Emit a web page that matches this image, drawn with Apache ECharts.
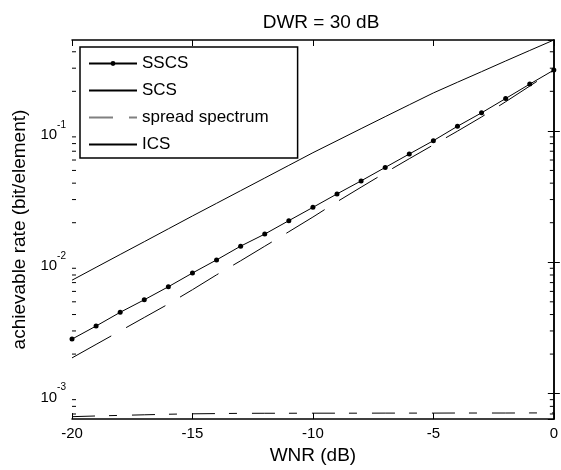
<!DOCTYPE html>
<html><head><meta charset="utf-8">
<script src="https://cdn.jsdelivr.net/npm/echarts@6/dist/echarts.min.js"></script>
<style>html,body{margin:0;padding:0;background:#fff}#c{width:561px;height:470px}</style>
</head><body><div id="c"></div>
<script>
// ---- data ----
const wnr = [-20,-19,-18,-17,-16,-15,-14,-13,-12,-11,-10,-9,-8,-7,-6,-5,-4,-3,-2,-1,0];
const sscs = [0.00260,0.00327,0.00416,0.00518,0.00651,0.00828,0.01042,0.01326,0.01638,0.02073,0.02617,0.03312,0.04163,0.05268,0.06667,0.08421,0.1084,0.1372,0.1763,0.2270,0.2903];
const spreadSpectrum = [0.00187,0.00237,0.00300,0.00380,0.00481,0.00618,0.00802,0.01026,0.01324,0.01707,0.02208,0.02887,0.03728,0.04801,0.06139,0.0782,0.0995,0.1276,0.1666,0.2193,0.2887];
const ics = [0.00730,0.00915,0.01146,0.01434,0.01797,0.02251,0.02809,0.03506,0.04375,0.05462,0.0682,0.0842,0.1040,0.1283,0.1580,0.1944,0.2345,0.2823,0.3404,0.4093,0.4917];
const scs = [6.68e-4,6.76e-4,6.83e-4,6.90e-4,6.97e-4,7.02e-4,7.05e-4,7.08e-4,7.09e-4,7.09e-4,7.10e-4,7.10e-4,7.10e-4,7.11e-4,7.11e-4,7.11e-4,7.12e-4,7.12e-4,7.12e-4,7.13e-4,7.13e-4];
const seriesNames = ['SSCS','SCS','spread spectrum','ICS'];
const xMin = -20, xMax = 0, xInterval = 5;
const yMin = 6.4e-4, yMax = 0.4917;
const yMinorTicks = [7e-4,8e-4,9e-4,2e-3,3e-3,4e-3,5e-3,6e-3,7e-3,8e-3,9e-3,2e-2,3e-2,4e-2,5e-2,6e-2,7e-2,8e-2,9e-2,2e-1,3e-1,4e-1];
const titleText = 'DWR = 30 dB';
const xName = 'WNR (dB)';
const yName = 'achievable rate (bit/element)';

// ---- chart ----
const F = '"Liberation Sans", Arial, Helvetica, sans-serif';
const pair = arr => wnr.map((x, i) => [x, arr[i]]);
const axisLine = {show: true, lineStyle: {color: '#000', width: 1.5}};
const noSymbol = {opacity: 0, color: 'transparent', borderWidth: 0};
const chart = echarts.init(document.getElementById('c'), null, {renderer: 'canvas'});

chart.setOption({
  animation: false,
  backgroundColor: '#fff',
  textStyle: {fontFamily: F, color: '#000'},
  title: {
    text: titleText, left: 316, textAlign: 'center', top: 8,
    textStyle: {fontSize: 19, fontWeight: 'normal', color: '#000', fontFamily: F}
  },
  grid: {left: 72, right: 1, top: 40, bottom: 44, containLabel: false},
  legend: {
    orient: 'vertical', left: 80, top: 47,
    itemWidth: 48, itemHeight: 6, itemGap: 10,
    padding: [8, 29, 5, 8],
    backgroundColor: '#fff', borderColor: '#000', borderWidth: 1.5, borderRadius: 0,
    textStyle: {fontSize: 17, color: '#000', fontFamily: F},
    data: [
      {name: seriesNames[0]},
      {name: seriesNames[1], lineStyle: {type: 'solid'}, itemStyle: noSymbol},
      {name: seriesNames[2], lineStyle: {type: [24, 16], color: '#808080'}, itemStyle: noSymbol},
      {name: seriesNames[3], itemStyle: noSymbol}
    ]
  },
  xAxis: [
    {type: 'value', min: xMin, max: xMax, interval: xInterval, position: 'bottom',
     name: xName, nameLocation: 'middle', nameGap: 17,
     nameTextStyle: {fontSize: 19, color: '#000', fontFamily: F},
     axisLine: axisLine, splitLine: {show: false},
     axisTick: {show: true, inside: true, length: 6, lineStyle: {color: '#000'}},
     axisLabel: {fontSize: 15, color: '#000', margin: 7, fontFamily: F}},
    {type: 'value', min: xMin, max: xMax, interval: xInterval, position: 'top',
     axisLine: axisLine, splitLine: {show: false},
     axisTick: {show: true, inside: true, length: 6, lineStyle: {color: '#000'}},
     axisLabel: {show: false}}
  ],
  yAxis: [
    {type: 'log', logBase: 10, min: yMin, max: yMax, position: 'left',
     name: yName, nameLocation: 'middle', nameGap: 43,
     nameTextStyle: {fontSize: 19, color: '#000', fontFamily: F},
     axisLine: axisLine, splitLine: {show: false},
     axisTick: {show: true, inside: true, length: 6, lineStyle: {color: '#000'}},
     axisLabel: {
       margin: 6, showMinLabel: false, showMaxLabel: false,
       padding: [8, 0, 0, 0],
       formatter: v => '{b|10}{s|' + Math.round(Math.log10(v)) + '}',
       rich: {
         b: {fontSize: 15, lineHeight: 30, color: '#000', fontFamily: F},
         s: {fontSize: 10, lineHeight: 10, verticalAlign: 'top', color: '#000', fontFamily: F}
       }
     }},
    {type: 'log', logBase: 10, min: yMin, max: yMax, position: 'right',
     axisLine: axisLine, splitLine: {show: false},
     axisTick: {show: true, inside: true, length: 6, lineStyle: {color: '#000'}},
     axisLabel: {show: false}}
  ],
  series: [
    {name: seriesNames[1], type: 'line', data: pair(scs), symbol: 'none',
     lineStyle: {color: '#000', width: 1, type: [23, 14, 8, 15]}, itemStyle: {color: '#000'}},
    {name: seriesNames[3], type: 'line', data: pair(ics), symbol: 'none',
     lineStyle: {color: '#000', width: 1}, itemStyle: {color: '#000'}},
    {name: seriesNames[2], type: 'line', data: pair(spreadSpectrum), symbol: 'none',
     lineStyle: {color: '#000', width: 1, type: [45, 17]}, itemStyle: {color: '#000'}},
    {name: seriesNames[0], type: 'line', data: pair(sscs), symbol: 'circle', symbolSize: 5,
     lineStyle: {color: '#000', width: 1}, itemStyle: {color: '#000'}},
    {type: 'custom', silent: true, xAxisIndex: 0, yAxisIndex: 0,
     data: yMinorTicks.map(v => [xMin, v]),
     renderItem: (params, api) => {
       const v = api.value(1);
       const l = api.coord([xMin, v]);
       const r = api.coord([xMax, v]);
       return {type: 'group', children: [
         {type: 'line', shape: {x1: l[0], y1: l[1], x2: l[0] + 4, y2: l[1]}, style: {stroke: '#000', lineWidth: 1}},
         {type: 'line', shape: {x1: r[0], y1: r[1], x2: r[0] - 4, y2: r[1]}, style: {stroke: '#000', lineWidth: 1}}
       ]};
     }}
  ]
});
</script></body></html>
